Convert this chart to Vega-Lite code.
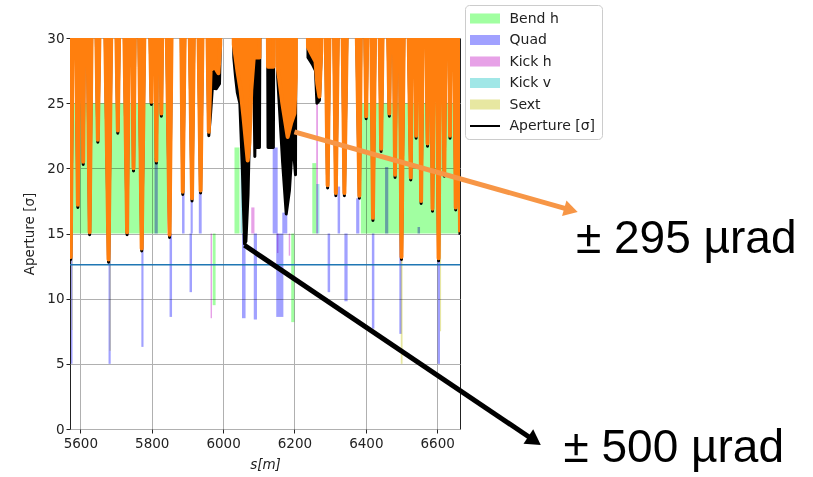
{
  "$schema": "https://vega.github.io/schema/vega-lite/v6.json",
  "width": 390,
  "height": 391,
  "autosize": {"type": "none"},
  "padding": {"left": 70, "top": 38, "right": 353, "bottom": 48},
  "background": "white",
  "config": {
    "view": {"stroke": "#222", "strokeWidth": 1},
    "axis": {"labelFont": "DejaVu Sans", "labelFontSize": 13.5, "labelColor": "#222", "titleFont": "DejaVu Sans", "titleFontSize": 13.5, "titleFontWeight": "normal", "titleColor": "#222", "gridColor": "#b0b0b0", "gridWidth": 1, "gridOpacity": 1, "tickColor": "#222", "tickSize": 4, "domain": false},
    "legend": {
      "title": null, "orient": "none", "legendX": 395, "legendY": -33,
      "symbolSize": 225, "symbolOpacity": 1, "symbolStrokeWidth": 0, "symbolOffset": 6.5, "labelOffset": 17, "rowPadding": 6.5, "padding": 6,
      "strokeColor": "#cccccc", "fillColor": "white", "cornerRadius": 4,
      "labelFont": "DejaVu Sans", "labelFontSize": 14, "labelColor": "#222"
    }
  },
  "datasets": {
    "legendkeys": [
      {"type": "Bend h"}, {"type": "Quad"}, {"type": "Kick h"}, {"type": "Kick v"}, {"type": "Sext"}, {"type": "Aperture [σ]"}
    ],
    "elements": [
      {"type": "Bend h", "s": 5571, "s2": 5843, "y": 15, "y2": 25},
      {"type": "Bend h", "s": 6386, "s2": 6664, "y": 15, "y2": 25},
      {"type": "Bend h", "s": 6032, "s2": 6046, "y": 15, "y2": 21.6},
      {"type": "Bend h", "s": 6250, "s2": 6261, "y": 15, "y2": 20.4},
      {"type": "Bend h", "s": 5971, "s2": 5979, "y": 15, "y2": 9.5},
      {"type": "Bend h", "s": 6191, "s2": 6200, "y": 15, "y2": 8.2},
      {"type": "Quad", "s": 5573, "s2": 5578, "y": 15, "y2": 5.0},
      {"type": "Quad", "s": 5679, "s2": 5685, "y": 15, "y2": 5.0},
      {"type": "Quad", "s": 5771, "s2": 5777, "y": 15, "y2": 6.3},
      {"type": "Quad", "s": 5850, "s2": 5857, "y": 15, "y2": 8.6},
      {"type": "Quad", "s": 5906, "s2": 5913, "y": 15, "y2": 10.5},
      {"type": "Quad", "s": 6053, "s2": 6063, "y": 15, "y2": 8.5},
      {"type": "Quad", "s": 6086, "s2": 6095, "y": 15, "y2": 8.4},
      {"type": "Quad", "s": 6149, "s2": 6169, "y": 15, "y2": 8.6},
      {"type": "Quad", "s": 6293, "s2": 6300, "y": 15, "y2": 10.5},
      {"type": "Quad", "s": 6340, "s2": 6349, "y": 15, "y2": 9.8},
      {"type": "Quad", "s": 6417, "s2": 6424, "y": 15, "y2": 7.7},
      {"type": "Quad", "s": 6494, "s2": 6500, "y": 15, "y2": 7.3},
      {"type": "Quad", "s": 6601, "s2": 6608, "y": 15, "y2": 5.0},
      {"type": "Quad", "s": 5808, "s2": 5817, "y": 15, "y2": 20.8},
      {"type": "Quad", "s": 5885, "s2": 5892, "y": 15, "y2": 18.3},
      {"type": "Quad", "s": 5909, "s2": 5915, "y": 15, "y2": 17.8},
      {"type": "Quad", "s": 5932, "s2": 5940, "y": 15, "y2": 18.3},
      {"type": "Quad", "s": 6139, "s2": 6153, "y": 15, "y2": 21.6},
      {"type": "Quad", "s": 6166, "s2": 6180, "y": 15, "y2": 16.6},
      {"type": "Quad", "s": 6321, "s2": 6328, "y": 15, "y2": 18.6},
      {"type": "Quad", "s": 6373, "s2": 6382, "y": 15, "y2": 17.7},
      {"type": "Quad", "s": 6454, "s2": 6463, "y": 15, "y2": 20.1},
      {"type": "Quad", "s": 6545, "s2": 6552, "y": 15, "y2": 15.5},
      {"type": "Kick h", "s": 5965, "s2": 5969, "y": 15, "y2": 8.5},
      {"type": "Kick h", "s": 6261, "s2": 6266, "y": 15, "y2": 25},
      {"type": "Kick h", "s": 6079, "s2": 6088, "y": 15, "y2": 17},
      {"type": "Kick h", "s": 6151, "s2": 6155, "y": 15, "y2": 13.5},
      {"type": "Kick h", "s": 6184, "s2": 6188, "y": 15, "y2": 13.3},
      {"type": "Kick v", "s": 6049, "s2": 6054, "y": 15, "y2": 23.8},
      {"type": "Kick v", "s": 6261, "s2": 6270, "y": 15, "y2": 18.8},
      {"type": "Sext", "s": 5576, "s2": 5578, "y": 15, "y2": 7.6},
      {"type": "Sext", "s": 5682, "s2": 5685, "y": 15, "y2": 6.0},
      {"type": "Sext", "s": 6498, "s2": 6503, "y": 15, "y2": 5.0},
      {"type": "Sext", "s": 6608, "s2": 6611, "y": 15, "y2": 7.5}
    ],
    "orange": [{"s":5571,"y":14.5},{"s":5573,"y":13.2},{"s":5583,"y":45},{"s":5593,"y":17.2},{"s":5601,"y":45},{"s":5608,"y":20.5},{"s":5615,"y":45},{"s":5626,"y":15.1},{"s":5637,"y":45},{"s":5649,"y":22.2},{"s":5662,"y":45},{"s":5679,"y":13.0},{"s":5693,"y":45},{"s":5705,"y":22.9},{"s":5716,"y":45},{"s":5731,"y":15.1},{"s":5741,"y":45},{"s":5749,"y":20.0},{"s":5758,"y":45},{"s":5772,"y":13.85},{"s":5786,"y":45},{"s":5799,"y":25.1},{"s":5805,"y":45},{"s":5813,"y":20.6},{"s":5819,"y":45},{"s":5827,"y":24.2},{"s":5835,"y":45},{"s":5850,"y":14.9},{"s":5861,"y":45},{"s":5878,"y":45},{"s":5887,"y":18.2},{"s":5899,"y":45},{"s":5913,"y":17.7},{"s":5924,"y":45},{"s":5937,"y":18.3},{"s":5949,"y":45},{"s":5960,"y":22.8},{"s":5965,"y":27.5},{"s":5976,"y":27.8},{"s":5987,"y":27.3},{"s":5992,"y":29.5},{"s":5994,"y":45},{"s":6028,"y":45},{"s":6030,"y":29.5},{"s":6040,"y":27.5},{"s":6049,"y":26.0},{"s":6057,"y":24.0},{"s":6064,"y":22.0},{"s":6069,"y":20.6},{"s":6074,"y":22.0},{"s":6079,"y":26.0},{"s":6086,"y":28.5},{"s":6102,"y":28.5},{"s":6105,"y":45},{"s":6123,"y":45},{"s":6126,"y":27.8},{"s":6141,"y":27.8},{"s":6144,"y":45},{"s":6151,"y":45},{"s":6153,"y":27.8},{"s":6166,"y":25.0},{"s":6181,"y":22.4},{"s":6191,"y":23.5},{"s":6200,"y":24.2},{"s":6204,"y":27.0},{"s":6205,"y":45},{"s":6235,"y":45},{"s":6238,"y":29.3},{"s":6247,"y":28.8},{"s":6259,"y":28.2},{"s":6264,"y":26.5},{"s":6270,"y":25.5},{"s":6275,"y":29.0},{"s":6281,"y":45},{"s":6293,"y":18.7},{"s":6305,"y":45},{"s":6316,"y":18.1},{"s":6329,"y":45},{"s":6340,"y":18.1},{"s":6355,"y":45},{"s":6366,"y":45},{"s":6382,"y":17.9},{"s":6391,"y":45},{"s":6401,"y":24.0},{"s":6411,"y":45},{"s":6420,"y":16.2},{"s":6432,"y":45},{"s":6443,"y":21.5},{"s":6454,"y":45},{"s":6466,"y":24.2},{"s":6474,"y":45},{"s":6482,"y":19.5},{"s":6491,"y":45},{"s":6500,"y":13.2},{"s":6512,"y":45},{"s":6526,"y":19.3},{"s":6534,"y":45},{"s":6541,"y":22.5},{"s":6548,"y":45},{"s":6555,"y":17.5},{"s":6565,"y":45},{"s":6573,"y":21.9},{"s":6580,"y":45},{"s":6587,"y":16.9},{"s":6595,"y":45},{"s":6604,"y":13.1},{"s":6612,"y":45},{"s":6620,"y":19.6},{"s":6628,"y":45},{"s":6636,"y":22.5},{"s":6644,"y":45},{"s":6652,"y":17.0},{"s":6658,"y":45},{"s":6664,"y":15.1}],
    "black": [{"s":5571,"y":14.3},{"s":5573,"y":13.0},{"s":5583,"y":45},{"s":5593,"y":17.0},{"s":5601,"y":45},{"s":5608,"y":20.3},{"s":5615,"y":45},{"s":5626,"y":14.9},{"s":5637,"y":45},{"s":5649,"y":22.0},{"s":5662,"y":45},{"s":5679,"y":12.8},{"s":5693,"y":45},{"s":5705,"y":22.7},{"s":5716,"y":45},{"s":5731,"y":14.9},{"s":5741,"y":45},{"s":5749,"y":19.8},{"s":5758,"y":45},{"s":5772,"y":13.65},{"s":5786,"y":45},{"s":5799,"y":24.9},{"s":5805,"y":45},{"s":5813,"y":20.4},{"s":5819,"y":45},{"s":5827,"y":24.0},{"s":5835,"y":45},{"s":5850,"y":14.7},{"s":5861,"y":45},{"s":5878,"y":45},{"s":5887,"y":18.0},{"s":5899,"y":45},{"s":5913,"y":17.5},{"s":5924,"y":45},{"s":5937,"y":18.1},{"s":5949,"y":45},{"s":5960,"y":22.5},{"s":5965,"y":24.2},{"s":5970,"y":26.2},{"s":5981,"y":26.1},{"s":5990,"y":26.5},{"s":5992,"y":29.3},{"s":5994,"y":45},{"s":6028,"y":45},{"s":6030,"y":28.5},{"s":6035,"y":27.0},{"s":6040,"y":25.8},{"s":6047,"y":25.0},{"s":6054,"y":20.0},{"s":6060,"y":14.2},{"s":6064,"y":14.4},{"s":6070,"y":18.0},{"s":6075,"y":24.0},{"s":6081,"y":27.5},{"s":6086,"y":28.0},{"s":6089,"y":20.9},{"s":6092,"y":27.6},{"s":6096,"y":21.6},{"s":6102,"y":21.6},{"s":6105,"y":45},{"s":6123,"y":45},{"s":6126,"y":21.6},{"s":6141,"y":21.6},{"s":6144,"y":45},{"s":6151,"y":45},{"s":6153,"y":27.0},{"s":6167,"y":20.4},{"s":6177,"y":16.5},{"s":6186,"y":18.3},{"s":6195,"y":22.2},{"s":6203,"y":19.5},{"s":6205,"y":45},{"s":6235,"y":45},{"s":6238,"y":28.5},{"s":6250,"y":28.0},{"s":6259,"y":27.5},{"s":6263,"y":25.0},{"s":6270,"y":25.2},{"s":6275,"y":28.8},{"s":6281,"y":45},{"s":6293,"y":18.5},{"s":6305,"y":45},{"s":6316,"y":17.9},{"s":6329,"y":45},{"s":6340,"y":17.9},{"s":6355,"y":45},{"s":6366,"y":45},{"s":6382,"y":17.7},{"s":6391,"y":45},{"s":6401,"y":23.8},{"s":6411,"y":45},{"s":6420,"y":16.0},{"s":6432,"y":45},{"s":6443,"y":21.3},{"s":6454,"y":45},{"s":6466,"y":24.0},{"s":6474,"y":45},{"s":6482,"y":19.3},{"s":6491,"y":45},{"s":6500,"y":13.0},{"s":6512,"y":45},{"s":6526,"y":19.1},{"s":6534,"y":45},{"s":6541,"y":22.3},{"s":6548,"y":45},{"s":6555,"y":17.3},{"s":6565,"y":45},{"s":6573,"y":21.7},{"s":6580,"y":45},{"s":6587,"y":16.7},{"s":6595,"y":45},{"s":6604,"y":12.9},{"s":6612,"y":45},{"s":6620,"y":19.4},{"s":6628,"y":45},{"s":6636,"y":22.3},{"s":6644,"y":45},{"s":6652,"y":16.8},{"s":6658,"y":45},{"s":6664,"y":14.9}],
    "ref": [{"s": 5571, "s2": 6664, "y": 12.6}],
    "arrows": [
      {"arrow": "o", "s": 6200, "y": 22.8},
      {"arrow": "o", "s": 6975, "y": 16.8},
      {"arrow": "k", "s": 6060, "y": 14.1},
      {"arrow": "k", "s": 6873, "y": -0.9}
    ],
    "heads": [
      {"arrow": "o", "s": 6975, "y": 16.8},
      {"arrow": "k", "s": 6873, "y": -0.9}
    ],
    "notes": [
      {"label": "± 295 µrad", "s": 7298, "y": 13.47},
      {"label": "± 500 µrad", "s": 7263, "y": -2.51}
    ]
  },
  "encoding": {
    "x": {"field": "s", "type": "quantitative", "scale": {"domain": [5571, 6664], "nice": false, "zero": false},
          "axis": {"values": [5600, 5800, 6000, 6200, 6400, 6600], "format": "d", "title": "s[m]", "titleFontStyle": "italic", "labelPadding": 3, "titlePadding": 8}},
    "y": {"field": "y", "type": "quantitative", "scale": {"domain": [0, 30], "nice": false},
          "axis": {"values": [0, 5, 10, 15, 20, 25, 30], "title": "Aperture [σ]", "titlePadding": 10, "labelPadding": 2}}
  },
  "layer": [
    {
      "data": {"name": "elements"},
      "mark": {"type": "rect", "blend": "multiply"},
      "encoding": {
        "x2": {"field": "s2"},
        "y2": {"field": "y2"},
        "color": {
          "field": "type", "type": "nominal",
          "scale": {"domain": ["Bend h", "Quad", "Kick h", "Kick v", "Sext", "Aperture [σ]"],
                    "range": ["#a1ffa1", "#a1a1ff", "#e7a1e7", "#a1e7e7", "#e7e7a1", "#000000"]}
        }
      }
    },
    {
      "data": {"name": "legendkeys"},
      "mark": {"type": "point", "filled": true, "opacity": 0},
      "encoding": {
        "color": {"field": "type", "type": "nominal"},
        "shape": {
          "field": "type", "type": "nominal",
          "scale": {"domain": ["Bend h", "Quad", "Kick h", "Kick v", "Sext", "Aperture [σ]"],
                    "range": ["M-2,-0.67H2V0.67H-2Z", "M-2,-0.67H2V0.67H-2Z", "M-2,-0.67H2V0.67H-2Z", "M-2,-0.67H2V0.67H-2Z", "M-2,-0.67H2V0.67H-2Z", "M-2,-0.13H2V0.13H-2Z"]}
        }
      }
    },
    {
      "data": {"name": "ref"},
      "mark": {"type": "rule", "color": "#1f77b4", "strokeWidth": 1.5},
      "encoding": {"x2": {"field": "s2"}}
    },
    {
      "data": {"name": "black"},
      "mark": {"type": "area", "color": "#000000", "clip": true},
      "encoding": {"y2": {"datum": 30}}
    },
    {
      "data": {"name": "black"},
      "mark": {"type": "line", "color": "#000000", "strokeWidth": 3, "strokeJoin": "round", "clip": true},
      "encoding": {}
    },
    {
      "data": {"name": "orange"},
      "mark": {"type": "area", "color": "#ff7f0e", "clip": true},
      "encoding": {"y2": {"datum": 30}}
    },
    {
      "data": {"name": "orange"},
      "mark": {"type": "line", "color": "#ff7f0e", "strokeWidth": 4, "strokeJoin": "round", "clip": true},
      "encoding": {}
    },
    {
      "data": {"name": "arrows"},
      "transform": [{"filter": "datum.arrow === 'o'"}],
      "mark": {"type": "line", "color": "#f79646", "strokeWidth": 5, "strokeCap": "butt", "clip": false},
      "encoding": {}
    },
    {
      "data": {"name": "arrows"},
      "transform": [{"filter": "datum.arrow === 'k'"}],
      "mark": {"type": "line", "color": "#000000", "strokeWidth": 5, "strokeCap": "butt", "clip": false},
      "encoding": {}
    },
    {
      "data": {"name": "heads"},
      "transform": [{"filter": "datum.arrow === 'o'"}],
      "mark": {"type": "point", "shape": "triangle-right", "angle": 15.8, "size": 260, "filled": true, "opacity": 1, "color": "#f79646"},
      "encoding": {}
    },
    {
      "data": {"name": "heads"},
      "transform": [{"filter": "datum.arrow === 'k'"}],
      "mark": {"type": "point", "shape": "triangle-right", "angle": 34, "size": 300, "filled": true, "opacity": 1, "color": "#000000"},
      "encoding": {}
    },
    {
      "data": {"name": "notes"},
      "mark": {"type": "text", "font": "Liberation Sans", "fontSize": 46, "align": "center", "baseline": "alphabetic", "color": "#000000"},
      "encoding": {"text": {"field": "label"}}
    }
  ]
}
